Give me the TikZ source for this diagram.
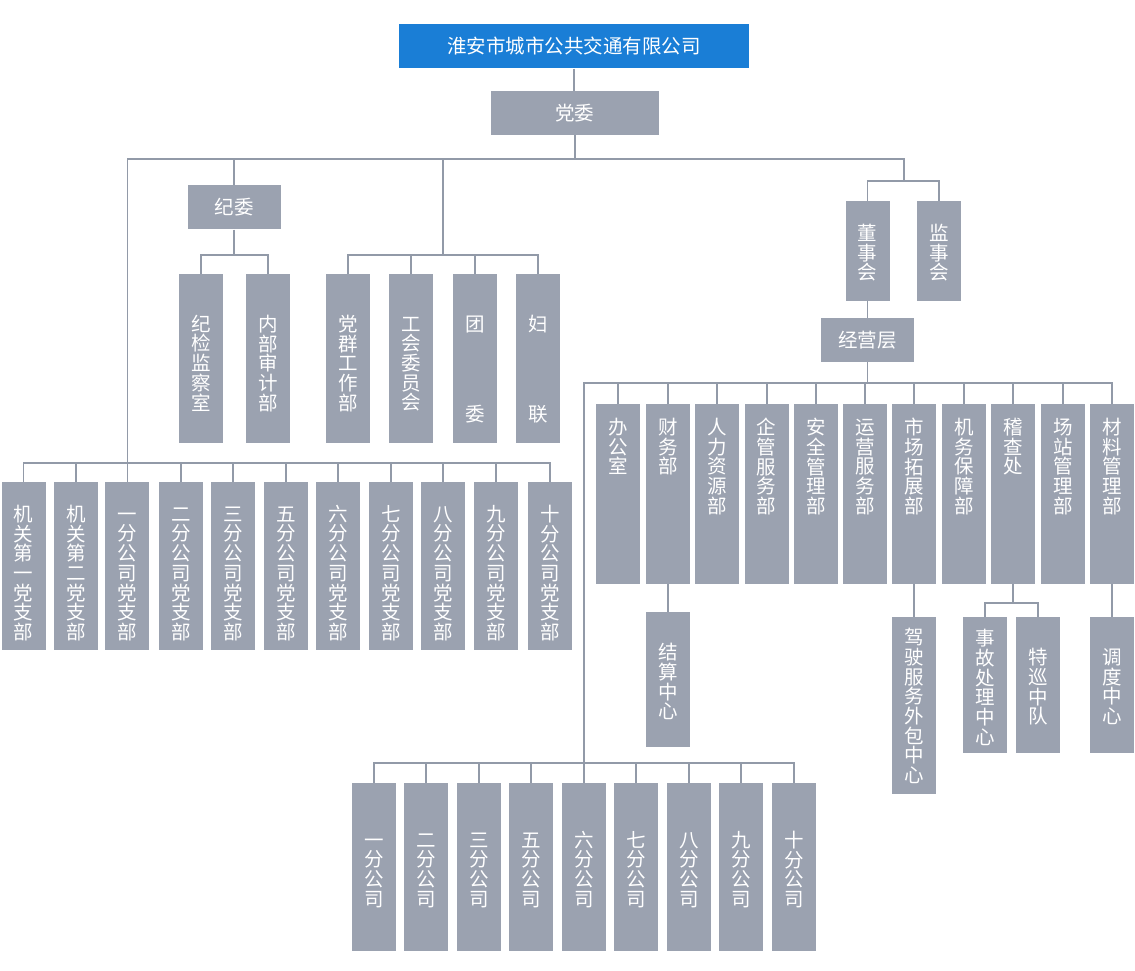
\documentclass[tikz,border=0pt]{standalone}
\usepackage{fontspec}
\usepackage{xcolor}
\usepackage{tikz}
\newfontfamily\cjk{Noto Sans CJK SC}
\definecolor{topblue}{RGB}{26, 126, 214}
\definecolor{boxgray}{RGB}{155, 162, 176}
\definecolor{linegray}{RGB}{146, 154, 168}
% column text: box height, space above first character, characters
\newcommand{\deptlabel}[3]{\parbox[c][#1][t]{44pt}{\centering\vspace*{#2}\rule{0pt}{16.2pt}#3}}

\begin{document}
\begin{tikzpicture}[x=1pt, y=-1pt,
    box/.style={fill=boxgray, text=white, inner sep=0pt, font=\cjk\fontsize{19.5}{19.7}\selectfont},
    wide/.style={box, minimum width=#1, minimum height=44pt},
    col/.style={box, minimum width=44pt},
    link/.style={draw=linegray, line width=1.8pt}]
    \useasboundingbox (0,0) rectangle (1135,971);

    % company and party committee
    \node[box, fill=topblue, minimum width=350pt, minimum height=44.5pt] (gs) at (574,46.2) {淮安市城市公共交通有限公司};
    \node[wide=168pt] (dw) at (574.8,113) {党委};
    \node[wide=92.5pt] (jiwei) at (234.3,207.3) {纪委};

    % discipline and mass organisations
    \node[col] (jjjc) at (200.9,358.3) {\deptlabel{168.7pt}{41pt}{纪\\检\\监\\察\\室}};
    \node[col] (nbsj) at (267.9,358.3) {\deptlabel{168.7pt}{41pt}{内\\部\\审\\计\\部}};
    \node[col] (dqgz) at (347.9,358.3) {\deptlabel{168.7pt}{41pt}{党\\群\\工\\作\\部}};
    \node[col] (ghwy) at (410.9,358.3) {\deptlabel{168.7pt}{41pt}{工\\会\\委\\员\\会}};
    \node[col] (tw) at (474.9,358.3) {\deptlabel{168.7pt}{41pt}{团\\[70.3pt]委}};
    \node[col] (fl) at (537.8,358.3) {\deptlabel{168.7pt}{41pt}{妇\\[70.3pt]联}};

    % party branches
    \node[col] (zbjg1) at (23.5,566.3) {\deptlabel{168pt}{22.7pt}{机\\关\\第\\一\\党\\支\\部}};
    \node[col] (zbjg2) at (76,566.3) {\deptlabel{168pt}{22.7pt}{机\\关\\第\\二\\党\\支\\部}};
    \node[col] (zb1) at (127.4,566.3) {\deptlabel{168pt}{22.7pt}{一\\分\\公\\司\\党\\支\\部}};
    \node[col] (zb2) at (181,566.3) {\deptlabel{168pt}{22.7pt}{二\\分\\公\\司\\党\\支\\部}};
    \node[col] (zb3) at (232.8,566.3) {\deptlabel{168pt}{22.7pt}{三\\分\\公\\司\\党\\支\\部}};
    \node[col] (zb5) at (285.8,566.3) {\deptlabel{168pt}{22.7pt}{五\\分\\公\\司\\党\\支\\部}};
    \node[col] (zb6) at (338,566.3) {\deptlabel{168pt}{22.7pt}{六\\分\\公\\司\\党\\支\\部}};
    \node[col] (zb7) at (390.8,566.3) {\deptlabel{168pt}{22.7pt}{七\\分\\公\\司\\党\\支\\部}};
    \node[col] (zb8) at (442.8,566.3) {\deptlabel{168pt}{22.7pt}{八\\分\\公\\司\\党\\支\\部}};
    \node[col] (zb9) at (496,566.3) {\deptlabel{168pt}{22.7pt}{九\\分\\公\\司\\党\\支\\部}};
    \node[col] (zb10) at (550,566.3) {\deptlabel{168pt}{22.7pt}{十\\分\\公\\司\\党\\支\\部}};

    % boards and management
    \node[col] (dsh) at (867.5,250.7) {\deptlabel{100pt}{23.5pt}{董\\事\\会}};
    \node[col] (jsh) at (938.8,250.7) {\deptlabel{100pt}{23.5pt}{监\\事\\会}};
    \node[wide=92.6pt] (jyc) at (867.5,340) {经营层};

    % departments
    \node[col] (bgs) at (618,494.2) {\deptlabel{180pt}{14pt}{办\\公\\室}};
    \node[col] (cwb) at (667.8,494.2) {\deptlabel{180pt}{14pt}{财\\务\\部}};
    \node[col] (rlzy) at (716.8,494.2) {\deptlabel{180pt}{14pt}{人\\力\\资\\源\\部}};
    \node[col] (qgfw) at (766.6,494.2) {\deptlabel{180pt}{14pt}{企\\管\\服\\务\\部}};
    \node[col] (aqgl) at (816,494.2) {\deptlabel{180pt}{14pt}{安\\全\\管\\理\\部}};
    \node[col] (yyfw) at (864.8,494.2) {\deptlabel{180pt}{14pt}{运\\营\\服\\务\\部}};
    \node[col] (sctz) at (914,494.2) {\deptlabel{180pt}{14pt}{市\\场\\拓\\展\\部}};
    \node[col] (jwbz) at (963.8,494.2) {\deptlabel{180pt}{14pt}{机\\务\\保\\障\\部}};
    \node[col] (jcc) at (1012.8,494.2) {\deptlabel{180pt}{14pt}{稽\\查\\处}};
    \node[col] (zzgl) at (1063,494.2) {\deptlabel{180pt}{14pt}{场\\站\\管\\理\\部}};
    \node[col] (clgl) at (1112,494.2) {\deptlabel{180pt}{14pt}{材\\料\\管\\理\\部}};

    % sub units
    \node[col] (jszx) at (667.8,679.5) {\deptlabel{135.6pt}{31.5pt}{结\\算\\中\\心}};
    \node[col] (jsfw) at (914,705.8) {\deptlabel{177pt}{11pt}{驾\\驶\\服\\务\\外\\包\\中\\心}};
    \node[col] (sgcl) at (985,685.2) {\deptlabel{136.3pt}{12.3pt}{事\\故\\处\\理\\中\\心}};
    \node[col] (txzd) at (1037.8,685.2) {\deptlabel{136.3pt}{31.3pt}{特\\巡\\中\\队}};
    \node[col] (ddzx) at (1112,685.2) {\deptlabel{136.3pt}{31.3pt}{调\\度\\中\\心}};

    % branch companies
    \node[col] (fg1) at (373.8,867) {\deptlabel{168pt}{48pt}{一\\分\\公\\司}};
    \node[col] (fg2) at (426.3,867) {\deptlabel{168pt}{48pt}{二\\分\\公\\司}};
    \node[col] (fg3) at (478.8,867) {\deptlabel{168pt}{48pt}{三\\分\\公\\司}};
    \node[col] (fg5) at (531.3,867) {\deptlabel{168pt}{48pt}{五\\分\\公\\司}};
    \node[col] (fg6) at (584,867) {\deptlabel{168pt}{48pt}{六\\分\\公\\司}};
    \node[col] (fg7) at (636.3,867) {\deptlabel{168pt}{48pt}{七\\分\\公\\司}};
    \node[col] (fg8) at (688.8,867) {\deptlabel{168pt}{48pt}{八\\分\\公\\司}};
    \node[col] (fg9) at (741.3,867) {\deptlabel{168pt}{48pt}{九\\分\\公\\司}};
    \node[col] (fg10) at (793.8,867) {\deptlabel{168pt}{48pt}{十\\分\\公\\司}};

    % bus points
    \coordinate (trunk) at (574.8,159);
    \coordinate (zbbus) at (127.4,462.7);
    \coordinate (jwbus) at (234.3,255);
    \coordinate (qtbus) at (443,255);
    \coordinate (dsbus) at (904,181);
    \coordinate (jybus) at (867.5,383);
    \coordinate (fgbus) at (584,763);
    \coordinate (jcbus) at (1012.8,602.7);

    % party side links
    \draw[link] (gs.south) -- (gs.south |- dw.north);
    \draw[link] (dw.south) -- (trunk);
    \draw[link] (trunk) -| (zbbus);
    \draw[link] (trunk) -| (jiwei.north);
    \draw[link] (trunk) -| (qtbus);
    \draw[link] (trunk) -| (dsbus);
    \draw[link] (jiwei.south) -- (jwbus);
    \draw[link] (jwbus) -| (jjjc.north);
    \draw[link] (jwbus) -| (nbsj.north);
    \draw[link] (qtbus) -| (dqgz.north);
    \draw[link] (qtbus) -| (ghwy.north);
    \draw[link] (qtbus) -| (tw.north);
    \draw[link] (qtbus) -| (fl.north);
    \draw[link] (zbbus) -| (zbjg1.north);
    \draw[link] (zbbus) -| (zbjg2.north);
    \draw[link] (zbbus) -| (zb1.north);
    \draw[link] (zbbus) -| (zb2.north);
    \draw[link] (zbbus) -| (zb3.north);
    \draw[link] (zbbus) -| (zb5.north);
    \draw[link] (zbbus) -| (zb6.north);
    \draw[link] (zbbus) -| (zb7.north);
    \draw[link] (zbbus) -| (zb8.north);
    \draw[link] (zbbus) -| (zb9.north);
    \draw[link] (zbbus) -| (zb10.north);

    % company side links
    \draw[link] (dsbus) -| (dsh.north);
    \draw[link] (dsbus) -| (jsh.north);
    \draw[link] (dsh.south) -- (jyc.north);
    \draw[link] (jyc.south) -- (jybus);
    \draw[link] (jybus) -| (bgs.north);
    \draw[link] (jybus) -| (cwb.north);
    \draw[link] (jybus) -| (rlzy.north);
    \draw[link] (jybus) -| (qgfw.north);
    \draw[link] (jybus) -| (aqgl.north);
    \draw[link] (jybus) -| (yyfw.north);
    \draw[link] (jybus) -| (sctz.north);
    \draw[link] (jybus) -| (jwbz.north);
    \draw[link] (jybus) -| (jcc.north);
    \draw[link] (jybus) -| (zzgl.north);
    \draw[link] (jybus) -| (clgl.north);
    \draw[link] (cwb.south) -- (jszx.north);
    \draw[link] (sctz.south) -- (jsfw.north);
    \draw[link] (jcc.south) -- (jcbus);
    \draw[link] (jcbus) -| (sgcl.north);
    \draw[link] (jcbus) -| (txzd.north);
    \draw[link] (clgl.south) -- (ddzx.north);
    \draw[link] (jybus) -| (fgbus);
    \draw[link] (fgbus) -| (fg1.north);
    \draw[link] (fgbus) -| (fg2.north);
    \draw[link] (fgbus) -| (fg3.north);
    \draw[link] (fgbus) -| (fg5.north);
    \draw[link] (fgbus) -| (fg6.north);
    \draw[link] (fgbus) -| (fg7.north);
    \draw[link] (fgbus) -| (fg8.north);
    \draw[link] (fgbus) -| (fg9.north);
    \draw[link] (fgbus) -| (fg10.north);
\end{tikzpicture}
\end{document}
